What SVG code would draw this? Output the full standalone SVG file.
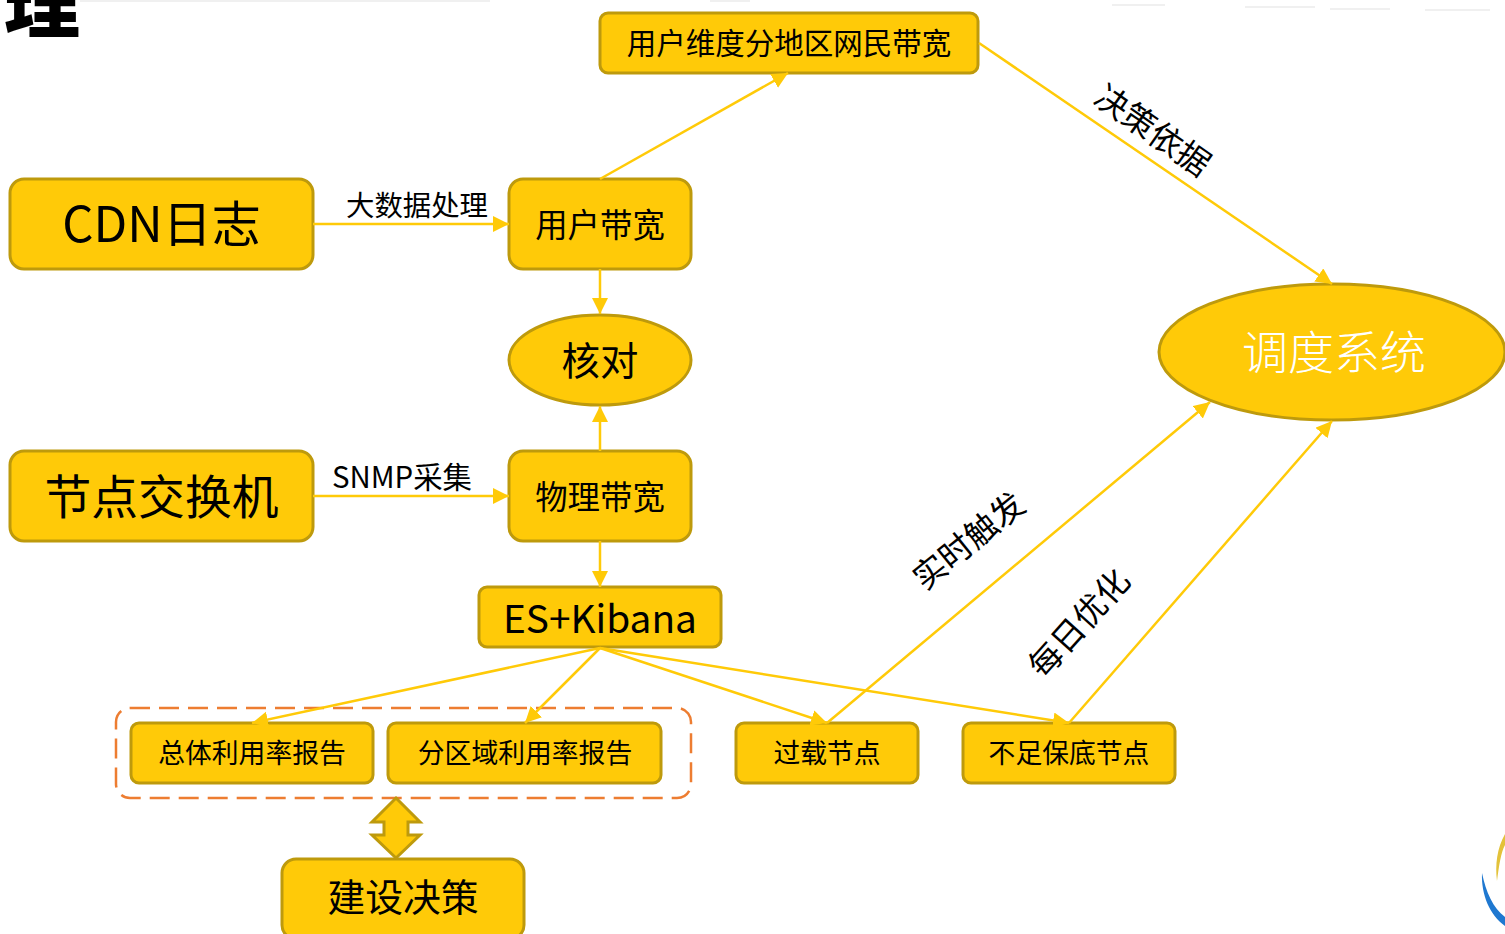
<svg xmlns="http://www.w3.org/2000/svg" width="1505" height="934" viewBox="0 0 1505 934">
<style>
.n{fill:#FFCA08;stroke:#BE9A0C;stroke-width:3}
.t{font-family:"Noto Sans CJK SC","Noto Sans",sans-serif;fill:#000;text-anchor:middle}
.c{fill:none;stroke:#FFCA08;stroke-width:2.5;marker-end:url(#a)}
.s{stroke:#9a9a9a;stroke-width:1.5;opacity:.2;fill:none}
</style>
<defs>
<marker id="a" markerUnits="userSpaceOnUse" markerWidth="18" markerHeight="18" refX="16" refY="8" orient="auto"><path d="M0 0L16 8L0 16Z" fill="#FFCA08"/></marker>
</defs>
<rect width="1505" height="934" fill="#fff"/>
<g id="smudges">
<path class="s" d="M80 1H490M710 1H750M1112 5H1165M1245 7H1315M1330 9H1390M1425 10H1490"/>
</g>
<text id="title" class="t" x="42" y="32" font-size="76" font-weight="900">理</text>
<g id="logo">
<path d="M1482 873C1486 892 1493 908 1505 917V926C1490 915 1481 895 1482 873Z" fill="#1F78D0"/>
<path d="M1505 834C1497 848 1495 865 1497 881C1499 866 1501 852 1505 845Z" fill="#E3C23A"/>
</g>
<g id="group-box"><rect x="116" y="708" width="575" height="90" rx="14" fill="none" stroke="#ED7D31" stroke-width="2.5" stroke-dasharray="20 9"/></g>
<g id="n-region"><rect class="n" x="600" y="13" width="378" height="60" rx="8"/><text class="t" x="789" y="54" font-size="29.500">用户维度分地区网民带宽</text></g>
<g id="n-cdn"><rect class="n" x="10" y="179" width="303" height="90" rx="14"/><text class="t" x="161.500" y="242" font-size="49">CDN日志</text></g>
<g id="n-user"><rect class="n" x="509" y="179" width="182" height="90" rx="14"/><text class="t" x="600" y="237" font-size="32.400">用户带宽</text></g>
<g id="n-check"><ellipse class="n" cx="600" cy="360" rx="91" ry="45"/><text class="t" x="600" y="375" font-size="38.400">核对</text></g>
<g id="n-switch"><rect class="n" x="10" y="451" width="303" height="90" rx="14"/><text class="t" x="161.500" y="514" font-size="46.800">节点交换机</text></g>
<g id="n-phys"><rect class="n" x="509" y="451" width="182" height="90" rx="14"/><text class="t" x="600" y="509" font-size="32.400">物理带宽</text></g>
<g id="n-es"><rect class="n" x="479" y="587" width="242" height="60" rx="8"/><text class="t" x="600" y="633" font-size="38.800">ES+Kibana</text></g>
<g id="n-total"><rect class="n" x="131" y="723" width="242" height="60" rx="8"/><text class="t" x="252" y="763" font-size="26.800">总体利用率报告</text></g>
<g id="n-area"><rect class="n" x="388" y="723" width="273" height="60" rx="8"/><text class="t" x="525" y="763" font-size="26.800">分区域利用率报告</text></g>
<g id="n-over"><rect class="n" x="736" y="723" width="182" height="60" rx="8"/><text class="t" x="827" y="763" font-size="26.800">过载节点</text></g>
<g id="n-under"><rect class="n" x="963" y="723" width="212" height="60" rx="8"/><text class="t" x="1069" y="763" font-size="26.800">不足保底节点</text></g>
<g id="n-build"><rect class="n" x="282" y="859" width="242" height="80" rx="14"/><text class="t" x="403" y="911" font-size="37.800">建设决策</text></g>
<g id="n-sched"><ellipse class="n" cx="1332" cy="352" rx="173" ry="68"/><text class="t" x="1334" y="369" font-size="46" font-weight="300" style="fill:#fff">调度系统</text></g>
<g id="n-double"><path class="n" d="M396 798L420 822H408V835H420L396 858L372 835H384V822H372Z"/></g>
<g id="connectors">
<path class="c" d="M600 179L788 73"/>
<path class="c" d="M979 43L1332 284"/>
<path class="c" d="M313 224H509"/>
<path class="c" d="M600 269V314"/>
<path class="c" d="M600 451V406"/>
<path class="c" d="M313 496H509"/>
<path class="c" d="M600 541V587"/>
<path class="c" d="M600 648L252 723"/>
<path class="c" d="M600 648L525 723"/>
<path class="c" d="M600 648L827 723"/>
<path class="c" d="M600 648L1069 723"/>
<path class="c" d="M827 723L1210 402"/>
<path class="c" d="M1069 723L1332 421"/>
</g>
<g id="labels">
<text class="t" x="417" y="216" font-size="28.400">大数据处理</text>
<text class="t" x="402" y="488" font-size="29.400">SNMP采集</text>
<text class="t" transform="translate(1146 140) rotate(35)" font-size="33">决策依据</text>
<text class="t" transform="translate(976 550) rotate(-39)" font-size="33">实时触发</text>
<text class="t" transform="translate(1088 631) rotate(-48)" font-size="33">每日优化</text>
</g>
</svg>
